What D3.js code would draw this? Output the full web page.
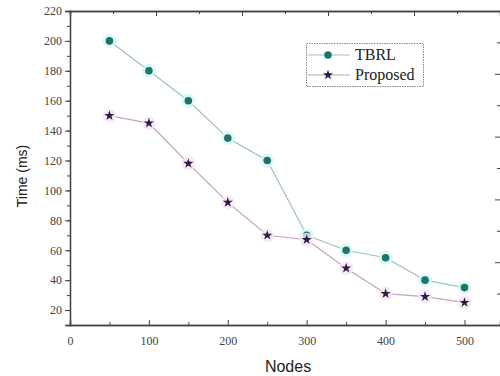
<!DOCTYPE html>
<html>
<head>
<meta charset="utf-8">
<script src="https://cdn.jsdelivr.net/npm/d3@7/dist/d3.min.js"></script>
<style>
  html, body { margin: 0; padding: 0; background: #fff; }
  svg { display: block; }
</style>
</head>
<body>
<svg id="chart" width="500" height="376"></svg>
<script>
// Node counts on the x axis
const nodes = [50, 100, 150, 200, 250, 300, 350, 400, 450, 500];
// Processing time (ms) for each scheme
const tbrl = [200, 180, 160, 135, 120, 70, 60, 55, 40, 35];
const proposed = [150, 145, 118, 92, 70, 67, 48, 31, 29, 25];
const seriesNames = ["TBRL", "Proposed"];
const xTicks = [0, 100, 200, 300, 400, 500];
const yTicks = [20, 40, 60, 80, 100, 120, 140, 160, 180, 200, 220];

const svg = d3.select("#chart");
const plotLeft = 70, plotRight = 500, plotTop = 11, plotBottom = 325;

const x = d3.scaleLinear().domain([0, 545]).range([plotLeft, plotRight]);
const y = d3.scaleLinear().domain([10, 220]).range([plotBottom, plotTop]);
// companion scales for the tick rows on the top and right frame edges
const xTop = d3.scaleLinear().domain([0, 5]).range([plotLeft, plotRight]);
const yRight = d3.scaleLinear().domain([0, 5]).range([plotBottom, plotTop]);

const axisColor = "#444";
const serif = "'Liberation Serif', 'Times New Roman', serif";
const sans = "'Liberation Sans', Arial, sans-serif";

function styleAxis(g) {
  g.select(".domain").attr("stroke", axisColor).attr("stroke-width", 1.3);
  g.selectAll(".tick line").attr("stroke", axisColor).attr("stroke-width", 1);
  g.selectAll(".tick text").attr("fill", "#444")
    .style("font-family", serif).style("font-size", "12px");
}

// minor ticks
svg.append("g").attr("transform", `translate(${plotLeft},0)`)
  .call(d3.axisLeft(y).tickValues(d3.range(10, 221, 10)).tickSize(3).tickFormat(""))
  .call(styleAxis);
svg.append("g").attr("transform", `translate(0,${plotBottom})`)
  .call(d3.axisBottom(x).tickValues(d3.range(50, 501, 100)).tickSize(-3).tickFormat(""))
  .call(styleAxis);

// left axis
svg.append("g").attr("transform", `translate(${plotLeft},0)`)
  .call(d3.axisLeft(y).tickValues(yTicks).tickSize(5).tickPadding(3))
  .call(styleAxis);

// bottom axis
svg.append("g").attr("transform", `translate(0,${plotBottom})`)
  .call(d3.axisBottom(x).tickValues(xTicks).tickSize(-5).tickPadding(9))
  .call(styleAxis)
  .call(g => g.selectAll(".tick text").attr("dy", "0.9em"));

// top frame ticks
svg.append("g").attr("transform", `translate(0,${plotTop})`)
  .call(d3.axisTop(xTop).tickValues([1, 2, 3, 4]).tickSize(-5).tickFormat(""))
  .call(styleAxis);
svg.append("g").attr("transform", `translate(0,${plotTop})`)
  .call(d3.axisTop(xTop).tickValues([0.5, 1.5, 2.5, 3.5, 4.5]).tickSize(-3).tickFormat(""))
  .call(styleAxis);

// right frame ticks (the frame edge itself sits just past the canvas)
svg.append("g").attr("transform", `translate(${plotRight},0)`)
  .call(d3.axisRight(yRight).tickValues([1, 2, 3, 4]).tickSize(-5).tickFormat(""))
  .call(styleAxis)
  .call(g => g.select(".domain").remove());
svg.append("g").attr("transform", `translate(${plotRight},0)`)
  .call(d3.axisRight(yRight).tickValues([0.5, 1.5, 2.5, 3.5, 4.5]).tickSize(-3).tickFormat(""))
  .call(styleAxis)
  .call(g => g.select(".domain").remove());

// axis titles
svg.append("text")
  .attr("transform", `translate(27,${(plotTop + plotBottom) / 2 + 8}) rotate(-90)`)
  .attr("text-anchor", "middle")
  .style("font-family", sans).style("font-size", "14px").attr("fill", "#222")
  .text("Time (ms)");
svg.append("text")
  .attr("x", 288).attr("y", 372)
  .attr("text-anchor", "middle")
  .style("font-family", sans).style("font-size", "16px").attr("fill", "#222")
  .text("Nodes");

const series = [
  { name: seriesNames[0], values: tbrl, line: "#9cc3be", mark: "#1d7468", halo: "#d3f6f8", shape: d3.symbolCircle, size: 45 },
  { name: seriesNames[1], values: proposed, line: "#c8a3bc", mark: "#2a1c47", halo: "#f6e6f4", shape: d3.symbolStar, size: 32 }
];

const line = d3.line().x((d, i) => x(nodes[i])).y(d => y(d));

series.forEach(s => {
  svg.append("path").datum(s.values)
    .attr("d", line).attr("fill", "none")
    .attr("stroke", s.line).attr("stroke-width", 1.2);
});
series.forEach(s => {
  const g = svg.append("g");
  g.selectAll("circle.halo").data(s.values).join("circle")
    .attr("class", "halo")
    .attr("cx", (d, i) => x(nodes[i])).attr("cy", d => y(d))
    .attr("r", 7).attr("fill", s.halo).attr("opacity", 0.8);
  g.selectAll("path.mk").data(s.values).join("path")
    .attr("class", "mk")
    .attr("transform", (d, i) => `translate(${x(nodes[i])},${y(d)})`)
    .attr("d", d3.symbol().type(s.shape).size(s.size))
    .attr("fill", s.mark);
});

// legend
const lg = svg.append("g").attr("transform", "translate(306,43)");
lg.append("rect").attr("x", 0.5).attr("y", 0.5).attr("width", 117).attr("height", 43)
  .attr("fill", "#fff").attr("stroke", "#888").attr("stroke-width", 1)
  .attr("stroke-dasharray", "1.5,1");
series.forEach((s, i) => {
  const cy = 12 + i * 20;
  lg.append("line").attr("x1", 2).attr("x2", 44).attr("y1", cy).attr("y2", cy)
    .attr("stroke", s.line).attr("stroke-width", 1.2);
  lg.append("path").attr("transform", `translate(22,${cy})`)
    .attr("d", d3.symbol().type(s.shape).size(s.size)).attr("fill", s.mark);
  lg.append("text").attr("x", 49).attr("y", cy + 5)
    .style("font-family", serif).style("font-size", "16px").attr("fill", "#222")
    .text(s.name);
});
</script>
</body>
</html>
